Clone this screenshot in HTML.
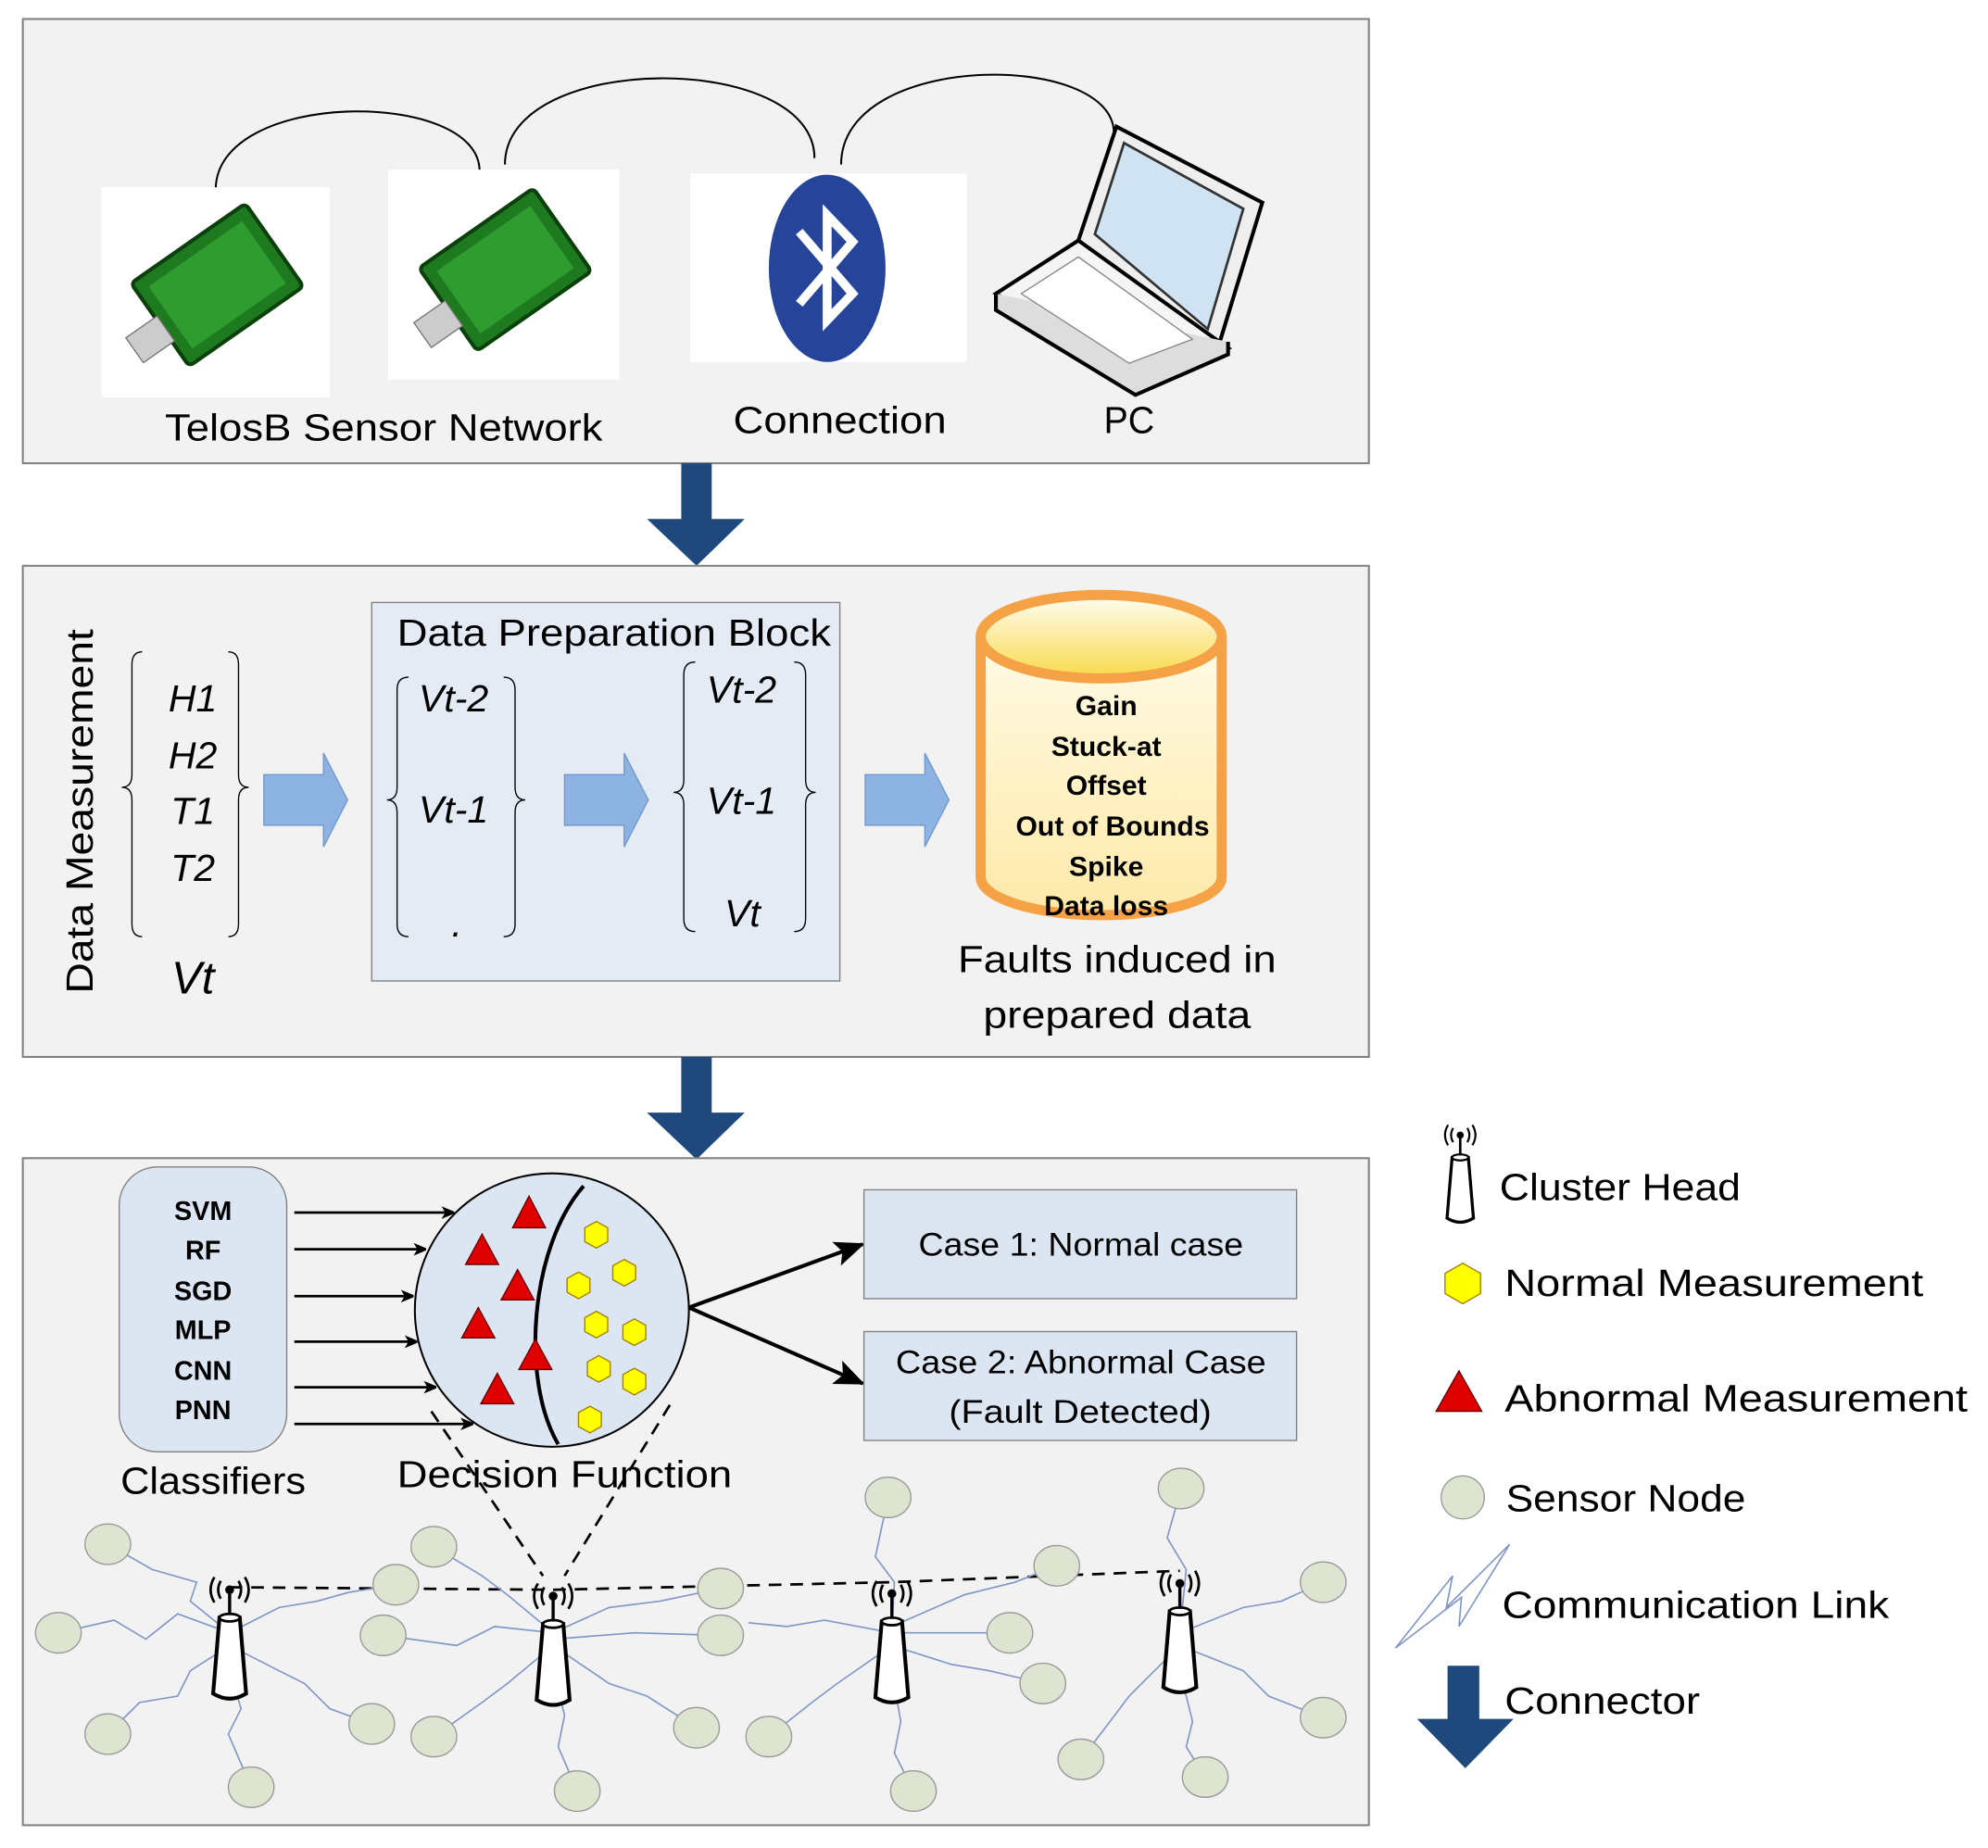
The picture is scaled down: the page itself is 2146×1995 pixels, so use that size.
<!DOCTYPE html>
<html><head><meta charset="utf-8"><style>
html,body{margin:0;padding:0;background:#fff;width:2146px;height:1995px;overflow:hidden}
svg{display:block}
text{font-family:"Liberation Sans",sans-serif}
</style></head><body>
<svg width="2146" height="1995" viewBox="0 0 1567 1460" preserveAspectRatio="none" xmlns="http://www.w3.org/2000/svg">
<defs>
<marker id="ah" markerWidth="10" markerHeight="10" refX="9" refY="5" orient="auto" markerUnits="userSpaceOnUse"><path d="M0,0 L12,5 L0,10 L3,5 Z" fill="#000"/></marker>
<marker id="ah2" markerWidth="24" markerHeight="20" refX="22" refY="10" orient="auto" markerUnits="userSpaceOnUse"><path d="M0,0 L24,10 L0,20 L5,10 Z" fill="#000"/></marker>
<g id="tower">
<path d="M-8,-32 L8,-32 L13,28 Q0,36 -13,28 Z" fill="#fff" stroke="#000" stroke-width="3"/>
<ellipse cx="0" cy="-32" rx="8" ry="3" fill="#fff" stroke="#000" stroke-width="2"/>
<line x1="0" y1="-34" x2="0" y2="-52" stroke="#000" stroke-width="2.5"/>
<circle cx="0" cy="-54" r="3.5" fill="#000"/>
<path d="M-7,-61 Q-11,-54 -7,-47 M7,-61 Q11,-54 7,-47 M-12,-64 Q-18,-54 -12,-44 M12,-64 Q18,-54 12,-44" fill="none" stroke="#000" stroke-width="2"/>
</g>
<linearGradient id="cyl" x1="0" y1="0" x2="0" y2="1"><stop offset="0" stop-color="#fffbe6"/><stop offset="1" stop-color="#fde9a8"/></linearGradient>
<linearGradient id="top" x1="0" y1="0" x2="0" y2="1"><stop offset="0" stop-color="#fffef5"/><stop offset="1" stop-color="#f9d94a"/></linearGradient>
</defs>

<!-- Panel 1 -->
<rect x="18" y="15" width="1061" height="351" fill="#f2f2f2" stroke="#808080" stroke-width="1.5"/>
<path d="M170,150 C170,70 378,70 378,135" fill="none" stroke="#000" stroke-width="1.5"/>
<path d="M398,130 C398,40 642,40 642,125" fill="none" stroke="#000" stroke-width="1.5"/>
<path d="M663,130 C663,40 878,40 878,105" fill="none" stroke="#000" stroke-width="1.5"/>
<rect x="80" y="148" width="180" height="166" fill="#fff"/>
<rect x="306" y="134" width="182" height="166" fill="#fff"/>
<g transform="translate(170,232) rotate(-35)"><rect x="-50" y="-45" width="110" height="80" rx="4" fill="#1e7a1e" stroke="#0b3f0b" stroke-width="3"/><rect x="-40" y="-35" width="90" height="60" fill="#2e9c2e"/><rect x="-78" y="-12" width="30" height="24" fill="#ccc" stroke="#777"/></g>
<g transform="translate(397,220) rotate(-35)"><rect x="-50" y="-45" width="110" height="80" rx="4" fill="#1e7a1e" stroke="#0b3f0b" stroke-width="3"/><rect x="-40" y="-35" width="90" height="60" fill="#2e9c2e"/><rect x="-78" y="-12" width="30" height="24" fill="#ccc" stroke="#777"/></g>
<rect x="544" y="137" width="218" height="149" fill="#fff"/>
<ellipse cx="652" cy="212" rx="46" ry="74" fill="#25449a"/>
<path d="M630,183 L672,232 L652,253 L652,170 L672,191 L630,240" fill="none" stroke="#fff" stroke-width="7" stroke-linejoin="miter"/>
<g>
<path d="M850,190 L880,100 L995,160 L960,275 Z" fill="#eee" stroke="#000" stroke-width="3"/>
<path d="M863,185 L886,113 L980,165 L952,260 Z" fill="#cfe3f3" stroke="#333" stroke-width="2"/>
<path d="M785,232 L850,190 L968,275 L895,300 Z" fill="#f5f5f5" stroke="#000" stroke-width="3"/>
<path d="M785,232 L785,245 L895,312 L968,280 L968,270" fill="#ddd" stroke="#000" stroke-width="3"/>
<path d="M805,232 L850,203 L940,268 L890,287 Z" fill="#fff" stroke="#888" stroke-width="1"/>
</g>
<text x="130" y="348" font-size="30" textLength="345" lengthAdjust="spacingAndGlyphs">TelosB Sensor Network</text>
<text x="578" y="342" font-size="30" textLength="168" lengthAdjust="spacingAndGlyphs">Connection</text>
<text x="870" y="342" font-size="30" textLength="40" lengthAdjust="spacingAndGlyphs">PC</text>

<path d="M537,366 L561,366 L561,410 L587,410 L549,447 L510,410 L537,410 Z" fill="#1f497d"/>

<!-- Panel 2 -->
<rect x="18" y="447" width="1061" height="388" fill="#f2f2f2" stroke="#808080" stroke-width="1.5"/>
<text transform="translate(73,785) rotate(-90)" font-size="30" textLength="288" lengthAdjust="spacingAndGlyphs">Data Measurement</text>
<path d="M112,515 Q104,515 104,525 L104,612 Q104,622 96,622 Q104,622 104,632 L104,730 Q104,740 112,740" fill="none" stroke="#000"/>
<path d="M180,515 Q188,515 188,525 L188,612 Q188,622 196,622 Q188,622 188,632 L188,730 Q188,740 180,740" fill="none" stroke="#000"/>
<g font-size="30" font-style="italic" text-anchor="middle"><text x="152" y="562">H1</text><text x="152" y="607">H2</text><text x="152" y="651">T1</text><text x="152" y="696">T2</text><text x="152" y="785" font-size="36">Vt</text></g>
<path d="M208,612 L255,612 L255,595 L274,632 L255,669 L255,652 L208,652 Z" fill="#8db3e2" stroke="#6f98cc"/>
<rect x="293" y="476" width="369" height="299" fill="#e4ebf5" stroke="#808080"/>
<text x="313" y="510" font-size="30" textLength="342" lengthAdjust="spacingAndGlyphs">Data Preparation Block</text>
<path d="M322,535 Q313,535 313,545 L313,622 Q313,632 305,632 Q313,632 313,642 L313,730 Q313,740 322,740" fill="none" stroke="#000"/>
<path d="M397,535 Q406,535 406,545 L406,622 Q406,632 414,632 Q406,632 406,642 L406,730 Q406,740 397,740" fill="none" stroke="#000"/>
<g font-size="30" font-style="italic"><text x="330" y="562">Vt-2</text><text x="330" y="650">Vt-1</text><text x="356" y="740">.</text>
<text x="557" y="555">Vt-2</text><text x="557" y="643">Vt-1</text><text x="571" y="732">Vt</text></g>
<path d="M548,523 Q539,523 539,533 L539,616 Q539,626 531,626 Q539,626 539,636 L539,726 Q539,736 548,736" fill="none" stroke="#000"/>
<path d="M626,523 Q635,523 635,533 L635,616 Q635,626 643,626 Q635,626 635,636 L635,726 Q635,736 626,736" fill="none" stroke="#000"/>
<path d="M445,612 L492,612 L492,595 L511,632 L492,669 L492,652 L445,652 Z" fill="#8db3e2" stroke="#6f98cc"/>
<path d="M682,612 L729,612 L729,595 L748,632 L729,669 L729,652 L682,652 Z" fill="#8db3e2" stroke="#6f98cc"/>
<path d="M773,503 L773,693 A95,30 0 0 0 963,693 L963,503" fill="url(#cyl)" stroke="#f4a245" stroke-width="8"/>
<ellipse cx="868" cy="503" rx="95" ry="33" fill="url(#top)" stroke="#f4a245" stroke-width="8"/>
<g font-size="22" font-weight="bold" text-anchor="middle"><text x="872" y="565">Gain</text><text x="872" y="597">Stuck-at</text><text x="872" y="628">Offset</text><text x="877" y="660">Out of Bounds</text><text x="872" y="692">Spike</text><text x="872" y="723">Data loss</text></g>
<text x="755" y="768" font-size="30" textLength="251" lengthAdjust="spacingAndGlyphs">Faults induced in</text>
<text x="775" y="812" font-size="30" textLength="211" lengthAdjust="spacingAndGlyphs">prepared data</text>

<path d="M537,835 L561,835 L561,879 L587,879 L549,916 L510,879 L537,879 Z" fill="#1f497d"/>

<!-- Panel 3 -->
<rect x="18" y="915" width="1061" height="527" fill="#f2f2f2" stroke="#808080" stroke-width="1.5"/>
<rect x="94" y="922" width="132" height="225" rx="30" fill="#dce6f2" stroke="#808080"/>
<g font-size="21" font-weight="bold" text-anchor="middle"><text x="160" y="964">SVM</text><text x="160" y="995">RF</text><text x="160" y="1027">SGD</text><text x="160" y="1058">MLP</text><text x="160" y="1090">CNN</text><text x="160" y="1121">PNN</text></g>
<text x="95" y="1180" font-size="30" textLength="146" lengthAdjust="spacingAndGlyphs">Classifiers</text>
<g stroke="#000" stroke-width="2" marker-end="url(#ah)">
<line x1="232" y1="958" x2="357" y2="958"/><line x1="232" y1="987" x2="335" y2="987"/><line x1="232" y1="1024" x2="325" y2="1024"/><line x1="232" y1="1060" x2="328" y2="1060"/><line x1="232" y1="1096" x2="343" y2="1096"/><line x1="232" y1="1125" x2="372" y2="1125"/></g>
<circle cx="435" cy="1035" r="108" fill="#dce6f2" stroke="#000" stroke-width="1.5"/>
<path d="M460,937 C418,985 410,1090 440,1141" fill="none" stroke="#000" stroke-width="3"/>
<g fill="#e00000" stroke="#600" stroke-width="1"><path d="M417,945 L430,970 L404,970Z"/><path d="M380,975 L393,999 L367,999Z"/><path d="M408,1003 L421,1027 L395,1027Z"/><path d="M377,1033 L390,1057 L364,1057Z"/><path d="M422,1058 L435,1082 L409,1082Z"/><path d="M392,1085 L405,1109 L379,1109Z"/></g>
<g fill="#ffff00" stroke="#a08000" stroke-width="1">
<polygon points="470,965 479,970 479,981 470,986 461,981 461,970" />
<polygon points="492,995 501,1000 501,1011 492,1016 483,1011 483,1000"/>
<polygon points="456,1005 465,1010 465,1021 456,1026 447,1021 447,1010"/>
<polygon points="470,1036 479,1041 479,1052 470,1057 461,1052 461,1041"/>
<polygon points="500,1042 509,1047 509,1058 500,1063 491,1058 491,1047"/>
<polygon points="472,1071 481,1076 481,1087 472,1092 463,1087 463,1076"/>
<polygon points="500,1081 509,1086 509,1097 500,1102 491,1097 491,1086"/>
<polygon points="465,1111 474,1116 474,1127 465,1132 456,1127 456,1116"/></g>
<text x="313" y="1175" font-size="30" textLength="264" lengthAdjust="spacingAndGlyphs">Decision Function</text>
<g stroke="#000" stroke-width="3" fill="none" marker-end="url(#ah2)"><line x1="543" y1="1033" x2="680" y2="983"/><line x1="543" y1="1033" x2="680" y2="1093"/></g>
<rect x="681" y="940" width="341" height="86" fill="#dce6f2" stroke="#808080"/>
<text x="724" y="992" font-size="26" textLength="256" lengthAdjust="spacingAndGlyphs">Case 1: Normal case</text>
<rect x="681" y="1052" width="341" height="86" fill="#dce6f2" stroke="#808080"/>
<text x="706" y="1085" font-size="26" textLength="292" lengthAdjust="spacingAndGlyphs">Case 2: Abnormal Case</text>
<text x="748" y="1124" font-size="26" textLength="207" lengthAdjust="spacingAndGlyphs">(Fault Detected)</text>

<!-- network -->
<g stroke="#000" stroke-width="2" stroke-dasharray="10,7" fill="none">
<polyline points="181,1254 436,1256 703,1250 930,1241"/>
<line x1="340" y1="1115" x2="428" y2="1245"/><line x1="528" y1="1110" x2="445" y2="1245"/></g>
<g stroke="#8096c8" stroke-width="1.2" fill="none">
<path d="M181,1290 L150,1265 L155,1250 L120,1240 L85,1220"/>
<path d="M181,1290 L140,1275 L115,1295 L90,1280 L46,1290"/>
<path d="M181,1300 L150,1320 L140,1340 L110,1345 L85,1370"/>
<path d="M181,1320 L190,1350 L180,1370 L198,1412"/>
<path d="M181,1300 L220,1320 L240,1330 L260,1350 L293,1362"/>
<path d="M181,1290 L220,1270 L250,1265 L275,1258 L312,1252"/>
<path d="M436,1290 L400,1260 L380,1245 L342,1222"/>
<path d="M436,1290 L390,1285 L360,1300 L302,1292"/>
<path d="M436,1300 L400,1330 L380,1345 L342,1372"/>
<path d="M436,1320 L445,1355 L440,1380 L455,1415"/>
<path d="M436,1300 L480,1330 L510,1340 L549,1365"/>
<path d="M436,1290 L480,1270 L520,1265 L568,1255"/>
<path d="M436,1295 L500,1290 L568,1292"/>
<path d="M703,1290 L705,1250 L690,1230 L700,1183"/>
<path d="M703,1300 L660,1330 L640,1345 L606,1372"/>
<path d="M703,1320 L710,1360 L705,1385 L720,1415"/>
<path d="M703,1300 L750,1315 L780,1320 L822,1330"/>
<path d="M703,1290 L750,1290 L796,1290"/>
<path d="M703,1285 L760,1260 L800,1250 L833,1237"/>
<path d="M703,1290 L650,1280 L620,1285 L590,1282"/>
<path d="M930,1290 L935,1240 L920,1215 L931,1176"/>
<path d="M930,1300 L890,1340 L875,1360 L852,1390"/>
<path d="M930,1320 L940,1360 L935,1380 L950,1404"/>
<path d="M930,1300 L980,1320 L1000,1340 L1043,1357"/>
<path d="M930,1290 L980,1270 L1010,1265 L1043,1250"/>
</g>
<g fill="#dde5d0" stroke="#999" stroke-width="1">
<ellipse cx="85" cy="1220" rx="18" ry="16"/><ellipse cx="46" cy="1290" rx="18" ry="16"/><ellipse cx="85" cy="1370" rx="18" ry="16"/><ellipse cx="198" cy="1412" rx="18" ry="16"/><ellipse cx="293" cy="1362" rx="18" ry="16"/><ellipse cx="312" cy="1252" rx="18" ry="16"/>
<ellipse cx="342" cy="1222" rx="18" ry="16"/><ellipse cx="302" cy="1292" rx="18" ry="16"/><ellipse cx="342" cy="1372" rx="18" ry="16"/><ellipse cx="455" cy="1415" rx="18" ry="16"/><ellipse cx="549" cy="1365" rx="18" ry="16"/><ellipse cx="568" cy="1255" rx="18" ry="16"/><ellipse cx="568" cy="1292" rx="18" ry="16"/>
<ellipse cx="700" cy="1183" rx="18" ry="16"/><ellipse cx="606" cy="1372" rx="18" ry="16"/><ellipse cx="720" cy="1415" rx="18" ry="16"/><ellipse cx="822" cy="1330" rx="18" ry="16"/><ellipse cx="796" cy="1290" rx="18" ry="16"/><ellipse cx="833" cy="1237" rx="18" ry="16"/>
<ellipse cx="931" cy="1176" rx="18" ry="16"/><ellipse cx="852" cy="1390" rx="18" ry="16"/><ellipse cx="950" cy="1404" rx="18" ry="16"/><ellipse cx="1043" cy="1357" rx="18" ry="16"/><ellipse cx="1043" cy="1250" rx="18" ry="16"/>
</g>
<use href="#tower" transform="translate(181,1310)"/>
<use href="#tower" transform="translate(436,1315)"/>
<use href="#tower" transform="translate(703,1313)"/>
<use href="#tower" transform="translate(930,1305)"/>

<!-- Legend -->
<use href="#tower" transform="translate(1151,940) scale(0.8)"/>
<text x="1182" y="948" font-size="30" textLength="190" lengthAdjust="spacingAndGlyphs">Cluster Head</text>
<polygon points="1153,998 1167,1006 1167,1022 1153,1030 1139,1022 1139,1006" fill="#ffff00" stroke="#a08000"/>
<text x="1186" y="1024" font-size="30" textLength="330" lengthAdjust="spacingAndGlyphs">Normal Measurement</text>
<path d="M1150,1083 L1168,1115 L1132,1115Z" fill="#e00000" stroke="#600"/>
<text x="1186" y="1115" font-size="30" textLength="365" lengthAdjust="spacingAndGlyphs">Abnormal Measurement</text>
<ellipse cx="1153" cy="1183" rx="17" ry="17" fill="#dde5d0" stroke="#999"/>
<text x="1187" y="1194" font-size="30" textLength="189" lengthAdjust="spacingAndGlyphs">Sensor Node</text>
<path d="M1100,1302 L1145,1245 L1140,1270 L1190,1220 L1150,1285 L1152,1262 L1100,1302" fill="none" stroke="#8096c8" stroke-width="1.2"/>
<text x="1184" y="1278" font-size="30" textLength="305" lengthAdjust="spacingAndGlyphs">Communication Link</text>
<path d="M1141,1316 L1166,1316 L1166,1358 L1193,1358 L1155,1397 L1117,1358 L1141,1358 Z" fill="#1f497d"/>
<text x="1186" y="1354" font-size="30" textLength="154" lengthAdjust="spacingAndGlyphs">Connector</text>
</svg>
</body></html>
